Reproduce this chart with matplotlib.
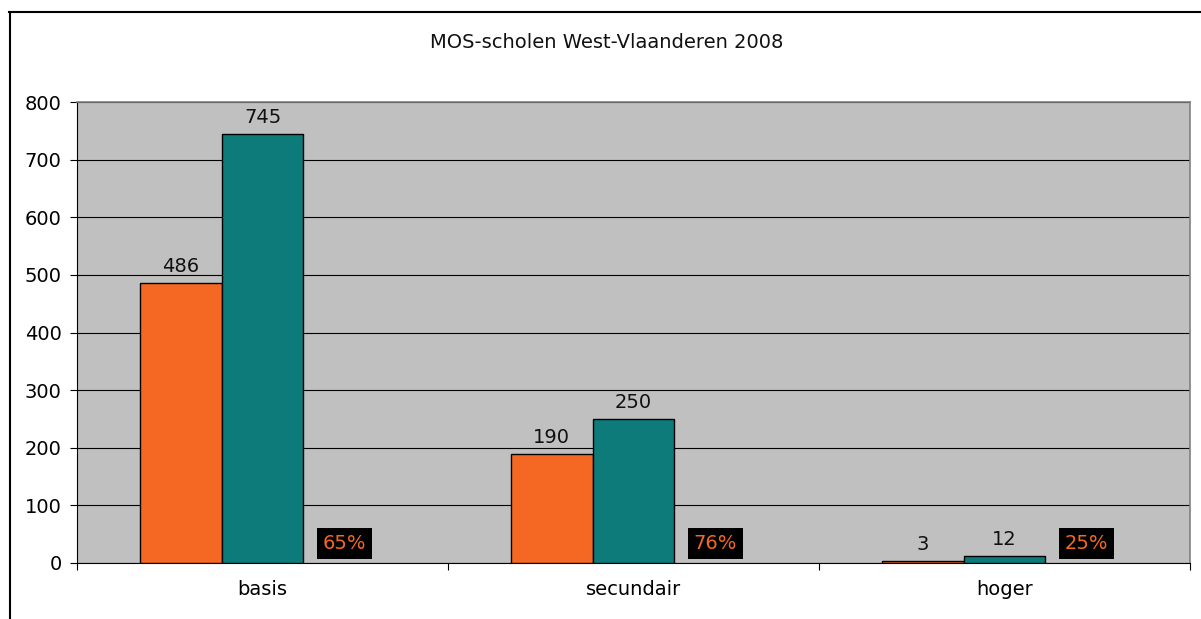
import matplotlib
matplotlib.use("Agg")
import matplotlib.pyplot as plt
from matplotlib.lines import Line2D
import numpy as np

# data
categories = ["basis", "secundair", "hoger"]
orange_vals = [486, 190, 3]
teal_vals = [745, 250, 12]
pct_labels = ["65%", "76%", "25%"]
y_ticks = [0, 100, 200, 300, 400, 500, 600, 700, 800]

ORANGE = "#F46824"
TEAL = "#0D7B7A"
PLOT_BG = "#C0C0C0"
FS = 14

plt.rcParams["font.family"] = ["DejaVu Sans"]

W, H = 1201, 619
fig = plt.figure(figsize=(W / 100, H / 100), dpi=100)
fig.patch.set_facecolor("white")

# plot area in pixels: left 77, right 1190, top 102, bottom 563
ax = fig.add_axes([77 / W, (H - 563) / H, (1190 - 77) / W, (563 - 102) / H])
ax.set_facecolor(PLOT_BG)

x = np.arange(len(categories))
bw = 0.221

ax.bar(x - bw, orange_vals, bw, color=ORANGE, edgecolor="black", linewidth=1, zorder=3)
ax.bar(x, teal_vals, bw, color=TEAL, edgecolor="black", linewidth=1, zorder=3)

for xi, v in zip(x - bw, orange_vals):
    ax.annotate(str(v), (xi, v), xytext=(0, 5), textcoords="offset points",
                ha="center", va="bottom", fontsize=FS, color="#111111", zorder=4)
for xi, v in zip(x, teal_vals):
    ax.annotate(str(v), (xi, v), xytext=(0, 5), textcoords="offset points",
                ha="center", va="bottom", fontsize=FS, color="#111111", zorder=4)

# percentage labels sit where an invisible third series would be
for xi, p in zip(x + bw, pct_labels):
    ax.annotate(p, (xi, 0), xytext=(0, 7), textcoords="offset points",
                ha="center", va="bottom", fontsize=FS, color=ORANGE, zorder=4,
                bbox=dict(boxstyle="square,pad=0.3", fc="black", ec="none"))

ax.set_xlim(-0.5, len(categories) - 0.5)
ax.set_ylim(0, 800)
ax.set_yticks(y_ticks)
ax.yaxis.grid(True, color="black", linewidth=0.8, zorder=1)
ax.set_axisbelow(True)

# ticks at category boundaries, labels at centres
ax.set_xticks(np.arange(len(categories) + 1) - 0.5)
ax.set_xticklabels([])
ax.set_xticks(x, minor=True)
ax.set_xticklabels(categories, minor=True, fontsize=FS)
ax.tick_params(axis="x", which="major", length=5, direction="out", width=0.8)
ax.tick_params(axis="x", which="minor", length=0, pad=12)
ax.tick_params(axis="y", length=5, direction="out", width=0.8, labelsize=FS, pad=6)

for s in ["top", "right"]:
    ax.spines[s].set_color("#808080")
    ax.spines[s].set_linewidth(1.2)
for s in ["left", "bottom"]:
    ax.spines[s].set_color("black")
    ax.spines[s].set_linewidth(0.8)

fig.text(607 / W, 1 - 42 / H, "MOS-scholen West-Vlaanderen 2008",
         ha="center", va="center", fontsize=FS, color="#111111")

# outer chart frame (only left and top edges visible)
fig.add_artist(Line2D([9.5 / W, 9.5 / W], [0, 1 - 12 / H], transform=fig.transFigure,
                      color="black", linewidth=1.5))
fig.add_artist(Line2D([9 / W, 1], [1 - 12 / H, 1 - 12 / H], transform=fig.transFigure,
                      color="black", linewidth=1.5))

fig.savefig("out.png", dpi=100)
